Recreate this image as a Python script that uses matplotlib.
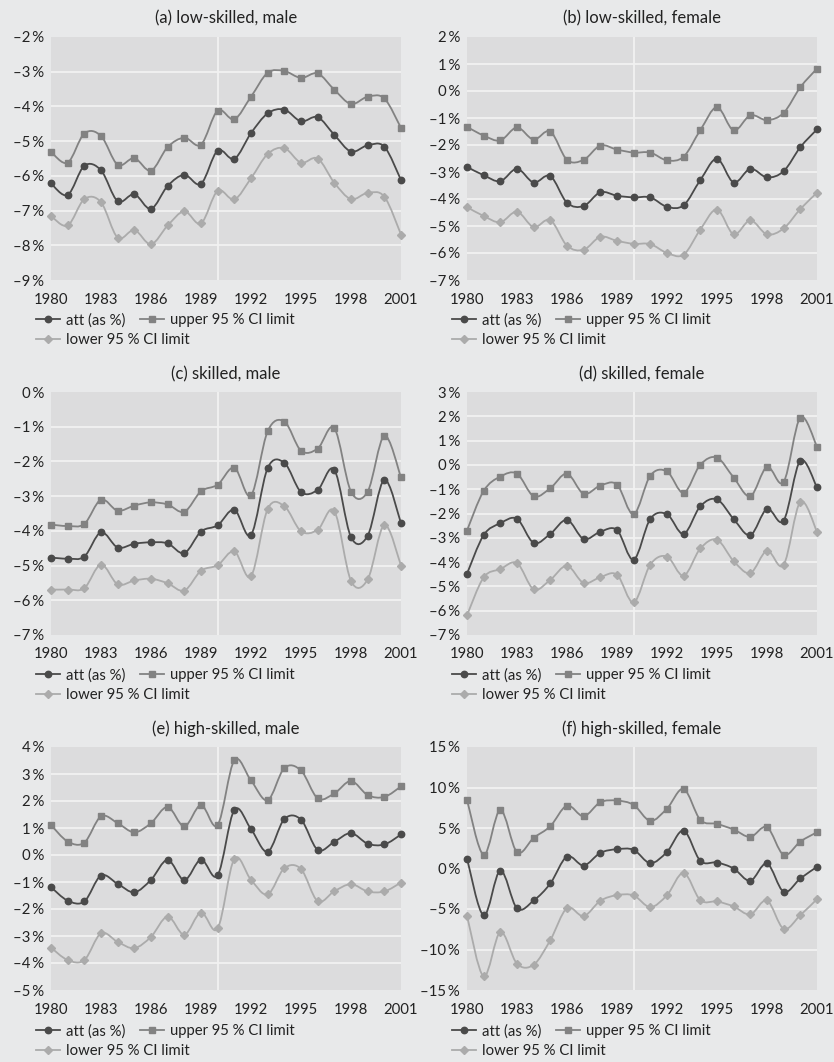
import matplotlib

matplotlib.use("Agg")
import matplotlib.pyplot as plt
from matplotlib.lines import Line2D
from matplotlib.path import Path
from matplotlib.patches import PathPatch

plt.rcParams["font.family"] = ["Lato", "DejaVu Sans"]

years = list(range(1980, 2002))
year_ticks = list(range(1980, 2002, 3))

# (a) low-skilled, male
a_att = [-6.22, -6.55, -5.71, -5.84, -6.73, -6.53, -6.95, -6.29, -5.97, -6.23, -5.27,
         -5.51, -4.77, -4.20, -4.09, -4.43, -4.31, -4.82, -5.30, -5.12, -5.16, -6.12]
a_up = [-5.31, -5.62, -4.78, -4.85, -5.68, -5.49, -5.85, -5.17, -4.90, -5.10, -4.12,
        -4.37, -3.72, -3.03, -2.98, -3.18, -3.05, -3.52, -3.93, -3.72, -3.77, -4.62]
a_lo = [-7.16, -7.43, -6.67, -6.76, -7.78, -7.56, -7.97, -7.43, -7.02, -7.37, -6.43,
        -6.68, -6.07, -5.37, -5.20, -5.62, -5.50, -6.20, -6.67, -6.49, -6.60, -7.69]

# (b) low-skilled, female
b_att = [-2.81, -3.12, -3.34, -2.88, -3.39, -3.15, -4.14, -4.26, -3.75, -3.88, -3.94,
         -3.94, -4.29, -4.23, -3.30, -2.51, -3.39, -2.88, -3.20, -2.97, -2.08, -1.42]
b_up = [-1.33, -1.65, -1.83, -1.35, -1.80, -1.50, -2.55, -2.55, -2.02, -2.17, -2.28,
        -2.28, -2.57, -2.43, -1.45, -0.60, -1.46, -0.90, -1.08, -0.81, 0.14, 0.83]
b_lo = [-4.30, -4.63, -4.86, -4.47, -5.04, -4.78, -5.73, -5.88, -5.40, -5.55, -5.66,
        -5.67, -6.00, -6.06, -5.13, -4.39, -5.31, -4.79, -5.31, -5.09, -4.37, -3.77]

# (c) skilled, male
c_att = [-4.77, -4.80, -4.74, -4.04, -4.48, -4.37, -4.33, -4.36, -4.64, -4.02, -3.84,
         -3.39, -4.12, -2.19, -2.04, -2.88, -2.82, -2.24, -4.18, -4.14, -2.53, -3.78]
c_up = [-3.82, -3.86, -3.80, -3.10, -3.42, -3.27, -3.18, -3.24, -3.45, -2.86, -2.67,
        -2.18, -2.98, -1.13, -0.85, -1.69, -1.63, -1.04, -2.87, -2.87, -1.26, -2.46]
c_lo = [-5.69, -5.69, -5.65, -4.97, -5.54, -5.43, -5.38, -5.51, -5.72, -5.15, -4.99,
        -4.59, -5.31, -3.37, -3.29, -4.01, -3.97, -3.43, -5.44, -5.40, -3.83, -5.00]

# (d) skilled, female
d_att = [-4.48, -2.89, -2.40, -2.22, -3.21, -2.84, -2.26, -3.05, -2.75, -2.68, -3.90,
         -2.22, -2.03, -2.84, -1.70, -1.42, -2.23, -2.89, -1.81, -2.29, 0.18, -0.93]
d_up = [-2.70, -1.07, -0.48, -0.36, -1.29, -0.96, -0.36, -1.19, -0.85, -0.81, -2.03,
        -0.44, -0.27, -1.15, 0.01, 0.30, -0.52, -1.29, -0.08, -0.70, 1.95, 0.75]
d_lo = [-6.19, -4.63, -4.29, -4.04, -5.12, -4.73, -4.15, -4.86, -4.62, -4.52, -5.66,
        -4.10, -3.77, -4.56, -3.44, -3.08, -3.96, -4.45, -3.53, -4.11, -1.52, -2.75]

# (e) high-skilled, male
e_att = [-1.19, -1.69, -1.72, -0.76, -1.07, -1.38, -0.92, -0.18, -0.93, -0.17, -0.75,
         1.67, 0.96, 0.12, 1.33, 1.31, 0.19, 0.49, 0.81, 0.42, 0.39, 0.76]
e_up = [1.11, 0.50, 0.46, 1.43, 1.18, 0.84, 1.18, 1.78, 1.06, 1.85, 1.11,
        3.51, 2.76, 2.03, 3.22, 3.13, 2.10, 2.28, 2.74, 2.22, 2.15, 2.54]
e_lo = [-3.43, -3.89, -3.89, -2.90, -3.22, -3.45, -3.03, -2.28, -2.95, -2.13, -2.72,
        -0.14, -0.92, -1.46, -0.49, -0.52, -1.71, -1.34, -1.08, -1.35, -1.35, -1.02]

# (f) high-skilled, female
f_att = [1.23, -5.80, -0.25, -4.93, -3.95, -1.85, 1.48, 0.37, 1.93, 2.38, 2.30,
         0.66, 2.05, 4.68, 0.94, 0.74, 0.00, -1.52, 0.62, -2.88, -1.23, 0.21]
f_up = [8.47, 1.68, 7.23, 2.01, 3.78, 5.22, 7.77, 6.45, 8.18, 8.38, 7.85,
        5.88, 7.40, 9.82, 6.00, 5.51, 4.81, 3.90, 5.10, 1.68, 3.33, 4.48]
f_lo = [-5.84, -13.32, -7.85, -11.76, -11.88, -8.84, -4.89, -5.88, -3.99, -3.29, -3.33,
        -4.77, -3.29, -0.54, -3.91, -4.07, -4.69, -5.67, -3.95, -7.44, -5.76, -3.78]

panels = [
    ("(a) low-skilled, male", a_att, a_up, a_lo, (-9, -2, 1)),
    ("(b) low-skilled, female", b_att, b_up, b_lo, (-7, 2, 1)),
    ("(c) skilled, male", c_att, c_up, c_lo, (-7, 0, 1)),
    ("(d) skilled, female", d_att, d_up, d_lo, (-7, 3, 1)),
    ("(e) high-skilled, male", e_att, e_up, e_lo, (-5, 4, 1)),
    ("(f) high-skilled, female", f_att, f_up, f_lo, (-15, 15, 5)),
]

FIG_BG = "#e8e9ea"
AX_BG = "#dcdcdd"
C_ATT = "#4a4a4a"
C_UP = "#828282"
C_LO = "#ababab"
TXT = "#222222"

W, H = 834, 1062
fig = plt.figure(figsize=(W / 100, H / 100), dpi=100, facecolor=FIG_BG)


def smooth_path(x, y):
    # Excel-style smoothed line: cubic Bezier through each point
    verts = [(x[0], y[0])]
    codes = [Path.MOVETO]
    n = len(x)
    for i in range(n - 1):
        i0 = max(i - 1, 0)
        i3 = min(i + 2, n - 1)
        c1 = (x[i] + (x[i + 1] - x[i0]) / 6, y[i] + (y[i + 1] - y[i0]) / 6)
        c2 = (x[i + 1] - (x[i3] - x[i]) / 6, y[i + 1] - (y[i3] - y[i]) / 6)
        verts += [c1, c2, (x[i + 1], y[i + 1])]
        codes += [Path.CURVE4] * 3
    return Path(verts, codes)


def pct(v):
    s = f"{abs(v):g}\u2009%"
    return ("\u2013" + s) if v < 0 else s


# pixel boxes: left/right of plot area; top, bottom, title y, legend row-1 top
col_x = [(51, 401), (467, 817)]
row_y = [(37, 280, 18, 313), (392, 635, 374, 668), (747, 990, 729, 1024)]

series_style = [
    ("att (as %)", C_ATT, "o", 4.6),
    ("upper 95 % CI limit", C_UP, "s", 4.4),
    ("lower 95 % CI limit", C_LO, "D", 3.6),
]

leg_kw = dict(frameon=False, loc="upper left", bbox_transform=fig.transFigure,
              borderpad=0, borderaxespad=0, fontsize=10.7, handlelength=1.6,
              handletextpad=0.4, columnspacing=1.0, labelcolor=TXT)

for idx, (title, att, up, lo, (ymin, ymax, step)) in enumerate(panels):
    r, c = divmod(idx, 2)
    x0, x1 = col_x[c]
    top, bot, ty, ly = row_y[r]
    ax = fig.add_axes([x0 / W, 1 - bot / H, (x1 - x0) / W, (bot - top) / H])
    ax.set_facecolor(AX_BG)
    for sp in ax.spines.values():
        sp.set_visible(False)
    ax.set_xlim(1980, 2001)
    ax.set_ylim(ymin, ymax)
    yt = list(range(ymin, ymax + 1, step))
    ax.set_yticks(yt)
    ax.set_yticklabels([pct(v) for v in yt])
    ax.set_xticks(year_ticks)
    ax.set_xticklabels([str(y) for y in year_ticks])
    ax.tick_params(length=0, labelsize=10.7, colors=TXT)
    ax.tick_params(axis="y", pad=5)
    ax.tick_params(axis="x", pad=9)
    for v in yt[1:-1]:
        ax.axhline(v, color="#f2f2f2", lw=1.3, zorder=1)
    ax.axvline(1990, color="#f2f2f2", lw=1.3, zorder=1)

    handles = []
    for (label, color, mk, ms), vals in zip(series_style, [att, up, lo]):
        ax.add_patch(PathPatch(smooth_path(years, vals), fill=False, edgecolor=color,
                               lw=1.3, zorder=3, clip_on=False))
        ax.plot(years, vals, linestyle="none", marker=mk, ms=ms, color=color,
                zorder=4, clip_on=False)
        handles.append(Line2D([], [], color=color, lw=1.3, marker=mk, ms=ms, label=label))

    fig.text((x0 + x1) / 2 / W, 1 - ty / H, title, ha="center", va="center",
             fontsize=12, color=TXT)

    fig.legend(handles=handles[:2], ncol=2,
               bbox_to_anchor=((x0 - 15) / W, 1 - ly / H), **leg_kw)
    fig.legend(handles=handles[2:], ncol=1,
               bbox_to_anchor=((x0 - 15) / W, 1 - (ly + 20) / H), **leg_kw)

fig.savefig("out.png", dpi=100, facecolor=FIG_BG)
